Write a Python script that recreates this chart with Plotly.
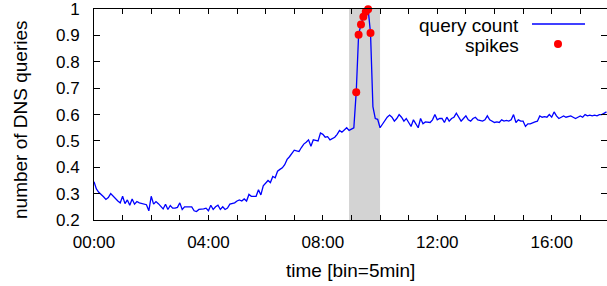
import pandas as pd
import plotly.graph_objects as go

# ---- data ----
start_time = "2000-01-01 00:00"
bin_minutes = 5

query_count = [
    # 00:00
    0.345, 0.318, 0.305, 0.298, 0.288, 0.278, 0.285, 0.300, 0.290, 0.280, 0.272, 0.265,
    # 01:00
    0.290, 0.262, 0.276, 0.256, 0.280, 0.260, 0.270, 0.265, 0.262, 0.262, 0.258, 0.235,
    # 02:00
    0.290, 0.260, 0.270, 0.262, 0.250, 0.242, 0.260, 0.240, 0.255, 0.245, 0.245, 0.248,
    # 03:00
    0.265, 0.240, 0.250, 0.250, 0.248, 0.250, 0.235, 0.232, 0.240, 0.240, 0.242, 0.245,
    # 04:00
    0.235, 0.256, 0.240, 0.250, 0.256, 0.240, 0.250, 0.240, 0.245, 0.260, 0.262, 0.265,
    # 05:00
    0.272, 0.276, 0.272, 0.280, 0.272, 0.297, 0.290, 0.290, 0.290, 0.315, 0.295, 0.330,
    # 06:00
    0.340, 0.350, 0.342, 0.365, 0.360, 0.385, 0.392, 0.398, 0.410, 0.430, 0.440, 0.455,
    # 07:00
    0.465, 0.462, 0.460, 0.475, 0.488, 0.495, 0.504, 0.480, 0.504, 0.502, 0.500, 0.530,
    # 08:00
    0.525, 0.514, 0.516, 0.504, 0.510, 0.514, 0.525, 0.540, 0.533, 0.540, 0.550, 0.540,
    # 09:00
    0.545, 0.550, 0.685, 0.903, 0.942, 0.971, 0.990, 1.000, 0.909, 0.630, 0.585, 0.582,
    # 10:00
    0.550, 0.565, 0.575, 0.590, 0.598, 0.590, 0.575, 0.585, 0.600, 0.590, 0.575, 0.585,
    # 11:00
    0.570, 0.555, 0.580, 0.565, 0.550, 0.585, 0.565, 0.572, 0.572, 0.570, 0.580, 0.600,
    # 12:00
    0.580, 0.585, 0.585, 0.570, 0.590, 0.575, 0.585, 0.590, 0.605, 0.590, 0.575, 0.585,
    # 13:00
    0.595, 0.580, 0.575, 0.585, 0.590, 0.580, 0.578, 0.575, 0.580, 0.595, 0.580, 0.575,
    # 14:00
    0.570, 0.572, 0.570, 0.580, 0.575, 0.578, 0.575, 0.580, 0.600, 0.570, 0.580, 0.575,
    # 15:00
    0.575, 0.555, 0.565, 0.565, 0.570, 0.572, 0.575, 0.595, 0.590, 0.592, 0.590, 0.600,
    # 16:00
    0.590, 0.610, 0.595, 0.585, 0.590, 0.595, 0.590, 0.592, 0.595, 0.590, 0.585, 0.590,
    # 17:00
    0.595, 0.590, 0.600, 0.595, 0.598, 0.595, 0.598, 0.595, 0.600, 0.600, 0.605, 0.610,
]

spike_times = ["09:10", "09:15", "09:20", "09:25", "09:30", "09:35", "09:40"]

highlight_start = "08:55"
highlight_end = "10:00"

x_end = "17:56"
hour_ticks = [f"{h:02d}:00" for h in range(0, 18)]
labelled_ticks = ["00:00", "04:00", "08:00", "12:00", "16:00"]
y_ticks = [0.2, 0.3, 0.4, 0.5, 0.6, 0.7, 0.8, 0.9, 1.0]
y_tick_text = ["0.2", "0.3", "0.4", "0.5", "0.6", "0.7", "0.8", "0.9", "1"]

# ---- build ----
day = start_time.split(" ")[0]
times = pd.date_range(start_time, periods=len(query_count), freq=f"{bin_minutes}min")
series = pd.Series(query_count, index=times)
spike_ts = pd.to_datetime([f"{day} {t}" for t in spike_times])
spike_vals = series.loc[spike_ts].values

FONT = "Liberation Sans, Arial, sans-serif"
FS_TICK = 17
FS_TITLE = 19
FS_KEY = 19

# plot-area geometry in pixels
L, R, T, B = 94, 607, 9, 220
W, H = R - L, B - T


def px(xp):
    return (xp - L) / W


def py(yp):
    return (B - yp) / H


fig = go.Figure()
fig.add_trace(go.Scatter(x=times, y=query_count, mode="lines",
                         line=dict(color="#0000ff", width=1.3),
                         name="query count", showlegend=False))
fig.add_trace(go.Scatter(x=spike_ts, y=spike_vals, mode="markers",
                         marker=dict(color="#ff0000", size=8),
                         name="spikes", showlegend=False, cliponaxis=False))
# invisible trace to drive mirrored right-side ticks
fig.add_trace(go.Scatter(x=[times[0]], y=[None], yaxis="y2", showlegend=False,
                         hoverinfo="skip"))

fig.add_shape(type="rect", xref="x", yref="paper",
              x0=f"{day} {highlight_start}", x1=f"{day} {highlight_end}",
              y0=0, y1=1, fillcolor="#d3d3d3", line=dict(width=0), layer="below")

# gnuplot-like key (text left, sample right)
fig.add_annotation(xref="paper", yref="paper", x=px(521), y=py(25),
                   text="query count", showarrow=False, xanchor="right", yanchor="middle",
                   font=dict(family=FONT, size=FS_KEY, color="black"))
fig.add_annotation(xref="paper", yref="paper", x=px(521), y=py(45),
                   text="spikes", showarrow=False, xanchor="right", yanchor="middle",
                   font=dict(family=FONT, size=FS_KEY, color="black"))
fig.add_shape(type="line", xref="paper", yref="paper",
              x0=px(532), x1=px(585), y0=py(24), y1=py(24),
              line=dict(color="#0000ff", width=1.3))
fig.add_shape(type="circle", xref="paper", yref="paper",
              x0=px(554), x1=px(562), y0=py(48), y1=py(40),
              fillcolor="#ff0000", line=dict(width=0))

# axis titles
fig.add_annotation(xref="paper", yref="paper", x=px(20), y=py(120),
                   text="number of DNS queries", showarrow=False, textangle=-90,
                   xanchor="center", yanchor="middle",
                   font=dict(family=FONT, size=FS_TITLE, color="black"))
fig.add_annotation(xref="paper", yref="paper", x=px(350), y=py(270),
                   text="time [bin=5min]", showarrow=False,
                   xanchor="center", yanchor="middle",
                   font=dict(family=FONT, size=FS_TITLE, color="black"))

tickvals = [pd.Timestamp(f"{day} {t}") for t in hour_ticks]
ticktext = [t if t in labelled_ticks else "" for t in hour_ticks]

fig.update_layout(
    width=607, height=286,
    margin=dict(l=L, r=607 - R, t=T, b=286 - B, autoexpand=False),
    plot_bgcolor="white", paper_bgcolor="white",
    font=dict(family=FONT, size=FS_TICK, color="black"),
    hovermode=False,
    xaxis=dict(
        range=[pd.Timestamp(f"{day} 00:00"), pd.Timestamp(f"{day} {x_end}")],
        tickvals=tickvals, ticktext=ticktext,
        ticks="inside", ticklen=5, tickcolor="black", tickwidth=1,
        showline=True, linecolor="black", linewidth=1, mirror="ticks",
        showgrid=False, zeroline=False, automargin=False,
        ticklabelstandoff=7, ticklabeloverflow="allow",
    ),
    yaxis=dict(
        range=[0.2, 1.0005], tickvals=y_ticks, ticktext=y_tick_text,
        ticks="inside", ticklen=6, tickcolor="black", tickwidth=1,
        showline=True, linecolor="black", linewidth=1, mirror=False,
        showgrid=False, zeroline=False, automargin=False,
        ticklabelstandoff=10, ticklabeloverflow="allow",
    ),
    yaxis2=dict(
        overlaying="y", side="right", range=[0.2, 1.0005], tickvals=y_ticks,
        ticks="inside", ticklen=6, tickcolor="black", showticklabels=False,
        showline=False, showgrid=False, zeroline=False, automargin=False,
    ),
)

fig.write_html("out.html",
               config={"displayModeBar": False, "staticPlot": True},
               post_script="document.body.style.margin='0';document.body.style.overflow='hidden';")
